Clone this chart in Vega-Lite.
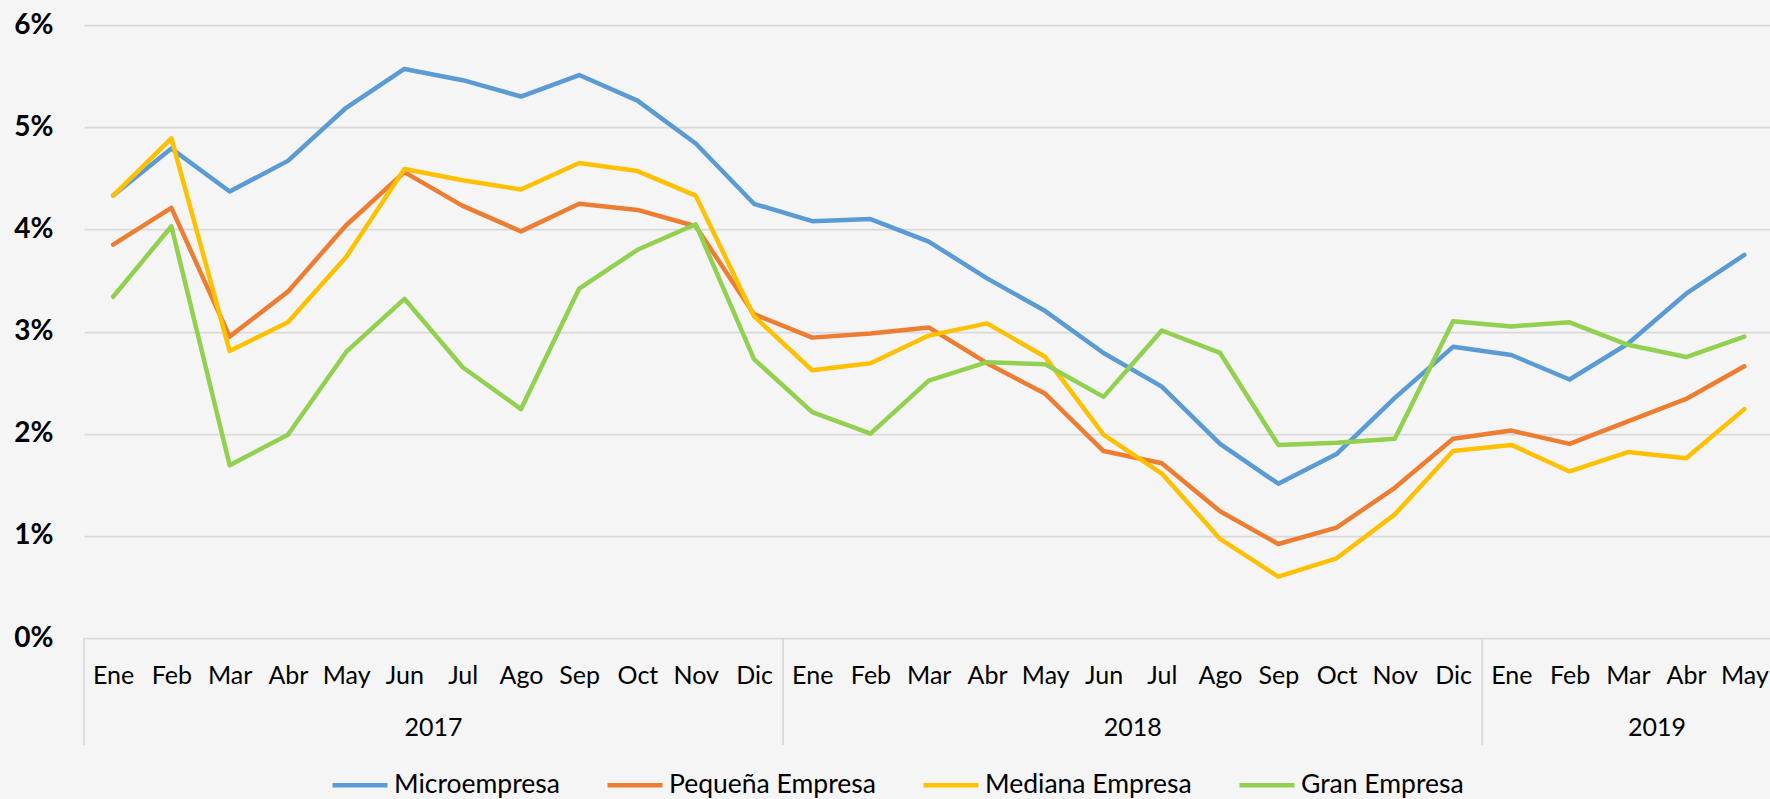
{
  "$schema": "https://vega.github.io/schema/vega-lite/v6.json",
  "width": 1686,
  "height": 613,
  "autosize": {"type": "none"},
  "padding": {"left": 84, "top": 25, "right": 0, "bottom": 161},
  "background": "#f5f5f5",
  "config": {"view": {"stroke": null}, "font": "Lato"},
  "datasets": {
    "series": [
      {"serie":"Microempresa","orden":1,"valor":4.33},{"serie":"Microempresa","orden":2,"valor":4.79},{"serie":"Microempresa","orden":3,"valor":4.37},{"serie":"Microempresa","orden":4,"valor":4.67},{"serie":"Microempresa","orden":5,"valor":5.19},{"serie":"Microempresa","orden":6,"valor":5.57},{"serie":"Microempresa","orden":7,"valor":5.46},{"serie":"Microempresa","orden":8,"valor":5.30},{"serie":"Microempresa","orden":9,"valor":5.51},{"serie":"Microempresa","orden":10,"valor":5.26},{"serie":"Microempresa","orden":11,"valor":4.84},{"serie":"Microempresa","orden":12,"valor":4.25},
      {"serie":"Microempresa","orden":13,"valor":4.08},{"serie":"Microempresa","orden":14,"valor":4.10},{"serie":"Microempresa","orden":15,"valor":3.88},{"serie":"Microempresa","orden":16,"valor":3.52},{"serie":"Microempresa","orden":17,"valor":3.20},{"serie":"Microempresa","orden":18,"valor":2.79},{"serie":"Microempresa","orden":19,"valor":2.46},{"serie":"Microempresa","orden":20,"valor":1.90},{"serie":"Microempresa","orden":21,"valor":1.51},{"serie":"Microempresa","orden":22,"valor":1.80},{"serie":"Microempresa","orden":23,"valor":2.35},{"serie":"Microempresa","orden":24,"valor":2.85},
      {"serie":"Microempresa","orden":25,"valor":2.77},{"serie":"Microempresa","orden":26,"valor":2.53},{"serie":"Microempresa","orden":27,"valor":2.88},{"serie":"Microempresa","orden":28,"valor":3.37},{"serie":"Microempresa","orden":29,"valor":3.75},
      {"serie":"Pequeña Empresa","orden":1,"valor":3.85},{"serie":"Pequeña Empresa","orden":2,"valor":4.21},{"serie":"Pequeña Empresa","orden":3,"valor":2.95},{"serie":"Pequeña Empresa","orden":4,"valor":3.39},{"serie":"Pequeña Empresa","orden":5,"valor":4.04},{"serie":"Pequeña Empresa","orden":6,"valor":4.56},{"serie":"Pequeña Empresa","orden":7,"valor":4.23},{"serie":"Pequeña Empresa","orden":8,"valor":3.98},{"serie":"Pequeña Empresa","orden":9,"valor":4.25},{"serie":"Pequeña Empresa","orden":10,"valor":4.19},{"serie":"Pequeña Empresa","orden":11,"valor":4.03},{"serie":"Pequeña Empresa","orden":12,"valor":3.17},
      {"serie":"Pequeña Empresa","orden":13,"valor":2.94},{"serie":"Pequeña Empresa","orden":14,"valor":2.98},{"serie":"Pequeña Empresa","orden":15,"valor":3.04},{"serie":"Pequeña Empresa","orden":16,"valor":2.69},{"serie":"Pequeña Empresa","orden":17,"valor":2.39},{"serie":"Pequeña Empresa","orden":18,"valor":1.83},{"serie":"Pequeña Empresa","orden":19,"valor":1.71},{"serie":"Pequeña Empresa","orden":20,"valor":1.24},{"serie":"Pequeña Empresa","orden":21,"valor":0.92},{"serie":"Pequeña Empresa","orden":22,"valor":1.08},{"serie":"Pequeña Empresa","orden":23,"valor":1.47},{"serie":"Pequeña Empresa","orden":24,"valor":1.95},
      {"serie":"Pequeña Empresa","orden":25,"valor":2.03},{"serie":"Pequeña Empresa","orden":26,"valor":1.90},{"serie":"Pequeña Empresa","orden":27,"valor":2.12},{"serie":"Pequeña Empresa","orden":28,"valor":2.34},{"serie":"Pequeña Empresa","orden":29,"valor":2.66},
      {"serie":"Mediana Empresa","orden":1,"valor":4.33},{"serie":"Mediana Empresa","orden":2,"valor":4.89},{"serie":"Mediana Empresa","orden":3,"valor":2.81},{"serie":"Mediana Empresa","orden":4,"valor":3.09},{"serie":"Mediana Empresa","orden":5,"valor":3.73},{"serie":"Mediana Empresa","orden":6,"valor":4.59},{"serie":"Mediana Empresa","orden":7,"valor":4.48},{"serie":"Mediana Empresa","orden":8,"valor":4.39},{"serie":"Mediana Empresa","orden":9,"valor":4.65},{"serie":"Mediana Empresa","orden":10,"valor":4.57},{"serie":"Mediana Empresa","orden":11,"valor":4.33},{"serie":"Mediana Empresa","orden":12,"valor":3.15},
      {"serie":"Mediana Empresa","orden":13,"valor":2.62},{"serie":"Mediana Empresa","orden":14,"valor":2.69},{"serie":"Mediana Empresa","orden":15,"valor":2.96},{"serie":"Mediana Empresa","orden":16,"valor":3.08},{"serie":"Mediana Empresa","orden":17,"valor":2.75},{"serie":"Mediana Empresa","orden":18,"valor":1.99},{"serie":"Mediana Empresa","orden":19,"valor":1.61},{"serie":"Mediana Empresa","orden":20,"valor":0.97},{"serie":"Mediana Empresa","orden":21,"valor":0.60},{"serie":"Mediana Empresa","orden":22,"valor":0.78},{"serie":"Mediana Empresa","orden":23,"valor":1.21},{"serie":"Mediana Empresa","orden":24,"valor":1.83},
      {"serie":"Mediana Empresa","orden":25,"valor":1.89},{"serie":"Mediana Empresa","orden":26,"valor":1.63},{"serie":"Mediana Empresa","orden":27,"valor":1.82},{"serie":"Mediana Empresa","orden":28,"valor":1.76},{"serie":"Mediana Empresa","orden":29,"valor":2.24},
      {"serie":"Gran Empresa","orden":1,"valor":3.34},{"serie":"Gran Empresa","orden":2,"valor":4.03},{"serie":"Gran Empresa","orden":3,"valor":1.69},{"serie":"Gran Empresa","orden":4,"valor":1.99},{"serie":"Gran Empresa","orden":5,"valor":2.80},{"serie":"Gran Empresa","orden":6,"valor":3.32},{"serie":"Gran Empresa","orden":7,"valor":2.65},{"serie":"Gran Empresa","orden":8,"valor":2.24},{"serie":"Gran Empresa","orden":9,"valor":3.42},{"serie":"Gran Empresa","orden":10,"valor":3.80},{"serie":"Gran Empresa","orden":11,"valor":4.05},{"serie":"Gran Empresa","orden":12,"valor":2.73},
      {"serie":"Gran Empresa","orden":13,"valor":2.21},{"serie":"Gran Empresa","orden":14,"valor":2.00},{"serie":"Gran Empresa","orden":15,"valor":2.52},{"serie":"Gran Empresa","orden":16,"valor":2.70},{"serie":"Gran Empresa","orden":17,"valor":2.68},{"serie":"Gran Empresa","orden":18,"valor":2.36},{"serie":"Gran Empresa","orden":19,"valor":3.01},{"serie":"Gran Empresa","orden":20,"valor":2.79},{"serie":"Gran Empresa","orden":21,"valor":1.89},{"serie":"Gran Empresa","orden":22,"valor":1.91},{"serie":"Gran Empresa","orden":23,"valor":1.95},{"serie":"Gran Empresa","orden":24,"valor":3.10},
      {"serie":"Gran Empresa","orden":25,"valor":3.05},{"serie":"Gran Empresa","orden":26,"valor":3.09},{"serie":"Gran Empresa","orden":27,"valor":2.87},{"serie":"Gran Empresa","orden":28,"valor":2.75},{"serie":"Gran Empresa","orden":29,"valor":2.95}
    ],
    "anios": [
      {"anio": "2017", "desde": 1, "hasta": 12},
      {"anio": "2018", "desde": 13, "hasta": 24},
      {"anio": "2019", "desde": 25, "hasta": 30}
    ]
  },
  "layer": [
    {
      "data": {"name": "anios"},
      "transform": [{"calculate": "datum.desde - 0.5", "as": "inicio"}],
      "mark": {"type": "rule", "color": "#d9d9d9", "strokeWidth": 1.75},
      "encoding": {
        "x": {"field": "inicio", "type": "quantitative", "title": null},
        "y": {"datum": 0, "type": "quantitative"},
        "y2": {"datum": -1.047}
      }
    },
    {
      "data": {"name": "anios"},
      "transform": [{"calculate": "(datum.desde + datum.hasta) / 2", "as": "centro"}],
      "mark": {"type": "text", "font": "Lato", "fontSize": 25, "color": "black", "baseline": "middle", "align": "center"},
      "encoding": {
        "x": {"field": "centro", "type": "quantitative", "title": null},
        "y": {"datum": -0.881, "type": "quantitative"},
        "text": {"field": "anio"}
      }
    },
    {
      "data": {"name": "series"},
      "mark": {"type": "line", "strokeWidth": 4.5, "strokeCap": "round", "strokeJoin": "round"},
      "encoding": {
        "x": {
          "field": "orden", "type": "quantitative", "title": null,
          "scale": {"domain": [0.5, 29.44], "nice": false, "zero": false},
          "axis": {
            "values": [1,2,3,4,5,6,7,8,9,10,11,12,13,14,15,16,17,18,19,20,21,22,23,24,25,26,27,28,29],
            "labelExpr": "['Ene','Feb','Mar','Abr','May','Jun','Jul','Ago','Sep','Oct','Nov','Dic'][(datum.value - 1) % 12]",
            "labelFont": "Lato", "labelFontSize": 25, "labelColor": "black",
            "labelBaseline": "middle", "labelPadding": 37, "labelDx": -9,
            "ticks": false, "tickSize": 0, "domain": false, "grid": false,
            "labelFlush": false, "labelOverlap": false, "labelBound": false, "title": null
          }
        },
        "y": {
          "field": "valor", "type": "quantitative", "title": null,
          "scale": {"domain": [0, 6], "nice": false, "zero": true},
          "axis": {
            "values": [0,1,2,3,4,5,6],
            "labelExpr": "datum.value + '%'",
            "labelFont": "Lato", "labelFontSize": 28, "labelFontWeight": "bold", "labelColor": "black",
            "labelPadding": 31, "ticks": false, "domain": false,
            "grid": true, "gridColor": "#d9d9d9", "gridWidth": 1.75, "title": null
          }
        },
        "color": {
          "field": "serie", "type": "nominal",
          "scale": {
            "domain": ["Microempresa", "Pequeña Empresa", "Mediana Empresa", "Gran Empresa"],
            "range": ["#5b9bd5", "#ed7d31", "#ffc000", "#92d050"]
          },
          "legend": {
            "title": null, "orient": "none", "legendX": 246, "legendY": 730,
            "direction": "horizontal", "symbolType": "stroke", "symbolSize": 3025,
            "symbolStrokeWidth": 4.5, "labelFont": "Lato", "labelFontSize": 26.5,
            "labelColor": "black", "labelOffset": 4, "columnPadding": 38,
            "padding": 0, "labelLimit": 0
          }
        }
      }
    }
  ]
}
